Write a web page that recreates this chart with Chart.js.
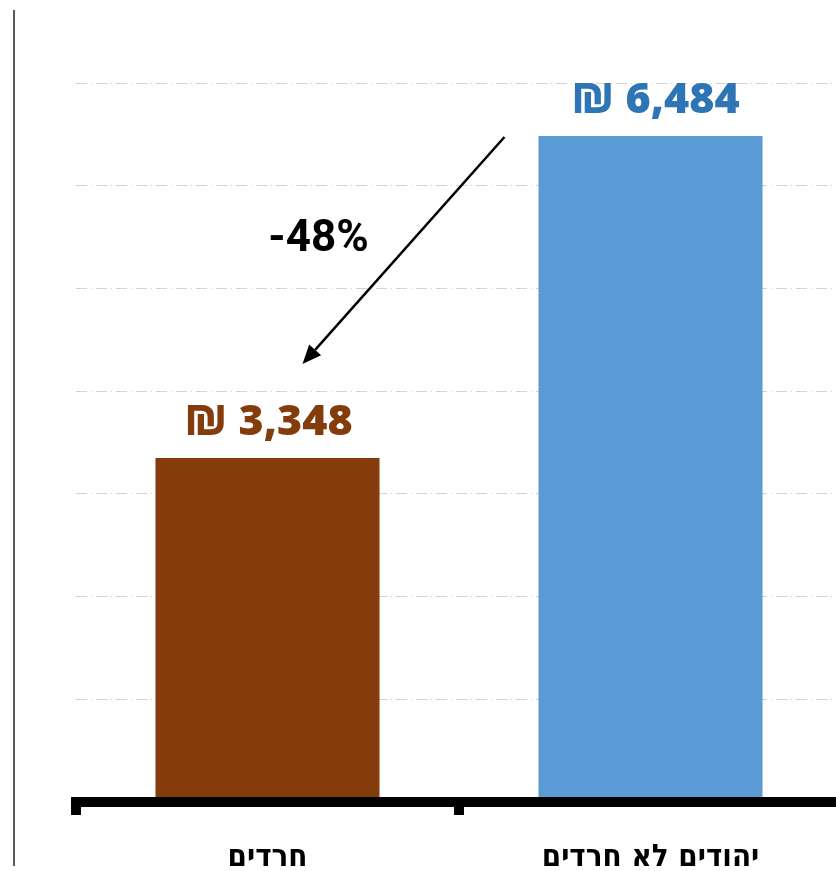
<!DOCTYPE html>
<html lang="he">
<head>
<meta charset="utf-8">
<script src="https://cdn.jsdelivr.net/npm/chart.js@4.4.1/dist/chart.umd.min.js"></script>
<style>
  html, body { margin: 0; padding: 0; background: #fff; overflow: hidden; }
  #wrap { position: relative; width: 850px; height: 871px; }
</style>
</head>
<body>
<div id="wrap"><canvas id="chart"></canvas></div>
<script>
// ── Data ──────────────────────────────────────────────────────────────────────
const CATEGORIES = ["חרדים", "יהודים לא חרדים"];
const VALUES     = [3348, 6484];
const BAR_COLORS = ["#843C0C", "#5B9BD5"];
const LBL_COLORS = ["#843C0C", "#2E75B6"];
const Y_TICKS    = [0, 1000, 2000, 3000, 4000, 5000, 6000, 7000];

const HEB_FONT = "'DejaVu Sans Condensed', 'DejaVu Sans', sans-serif";

// ── Decorations: frame line, value labels, arrow ─────────────────────────────
const decor = {
  id: "decor",
  beforeDraw(chart) {
    const ctx = chart.ctx;
    ctx.save();
    ctx.fillStyle = "#595959";
    ctx.fillRect(13, 10, 2, 856);
    ctx.restore();
  },
  afterDatasetsDraw(chart) {
    const ctx = chart.ctx;
    const bars = chart.getDatasetMeta(0).data;
    ctx.save();
    ctx.textAlign = "center";
    ctx.textBaseline = "alphabetic";
    ctx.font = "800 43px 'Open Sans', 'DejaVu Sans', sans-serif";
    bars.forEach((b, i) => {
      ctx.fillStyle = LBL_COLORS[i];
      ctx.fillText("₪ " + VALUES[i].toLocaleString("en-US"), b.x + 1 + 4 * i, b.y - 23);
    });

    // arrow from the tall bar down to the short one
    const lo = bars[0], hi = bars[1];
    const x1 = hi.x - hi.width / 2 - 34, y1 = hi.y + 1;
    const x2 = lo.x + 35,                y2 = lo.y - 94;
    const ang = Math.atan2(y2 - y1, x2 - x1);
    const hl = 19, hw = 8;
    const bx = x2 - hl * Math.cos(ang), by = y2 - hl * Math.sin(ang);
    ctx.strokeStyle = "#000";
    ctx.lineWidth = 2.5;
    ctx.beginPath();
    ctx.moveTo(x1, y1);
    ctx.lineTo(bx, by);
    ctx.stroke();
    ctx.fillStyle = "#000";
    ctx.beginPath();
    ctx.moveTo(x2, y2);
    ctx.lineTo(bx + hw * Math.sin(ang), by - hw * Math.cos(ang));
    ctx.lineTo(bx - hw * Math.sin(ang), by + hw * Math.cos(ang));
    ctx.closePath();
    ctx.fill();

    const pct = Math.round((VALUES[0] / VALUES[1] - 1) * 100);
    ctx.font = "bold 44px 'Liberation Sans Narrow', Roboto, sans-serif";
    ctx.fillText(pct + "%", (x1 + x2) / 2 - 85, (y1 + y2) / 2 + 0);
    ctx.restore();
  }
};

new Chart(document.getElementById("chart"), {
  type: "bar",
  data: {
    labels: CATEGORIES,
    datasets: [{
      data: VALUES,
      backgroundColor: BAR_COLORS,
      borderWidth: 0,
      categoryPercentage: 1,
      barPercentage: 0.585,
    }],
  },
  options: {
    responsive: true,
    maintainAspectRatio: false,
    animation: false,
    layout: { padding: { left: 76, top: 83, right: 8, bottom: 0 } },
    plugins: { legend: { display: false }, tooltip: { enabled: false } },
    scales: {
      x: {
        afterFit: s => { s.height = 69; },
        grid: {
          offset: true,
          drawOnChartArea: false,
          drawTicks: true,
          tickLength: 13,
          lineWidth: 10,
          color: "#000",
        },
        border: { display: true, color: "#000", width: 10, z: 1 },
        ticks: {
          color: "#000",
          padding: 24,
          font: { family: HEB_FONT, size: 31, weight: "bold" },
        },
      },
      y: {
        min: 0,
        max: 7000,
        afterFit: s => { s.width = 0; },
        afterBuildTicks: s => { s.ticks = Y_TICKS.map(v => ({ value: v })); },
        ticks: { display: false },
        border: { display: false, dash: [11, 4, 1, 4] },
        grid: {
          drawTicks: false,
          lineWidth: 1,
          color: c => c.tick && c.tick.value === 0 ? "rgba(0,0,0,0)" : "#d4d4d4",
        },
      },
    },
  },
  plugins: [decor],
});
</script>
</body>
</html>
